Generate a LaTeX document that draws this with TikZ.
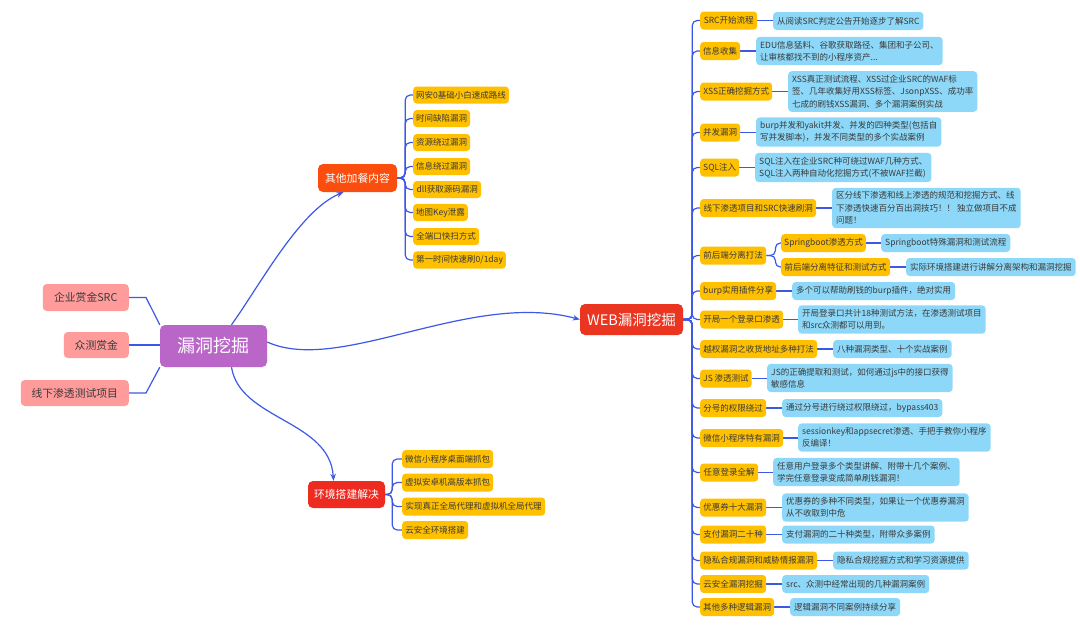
\documentclass[tikz,border=0pt]{standalone}
\usepackage{fontspec}
\setmainfont{Noto Sans CJK SC}
\usetikzlibrary{arrows.meta,backgrounds,calc}
\definecolor{orangeC}{HTML}{FFC000}
\definecolor{blueC}{HTML}{8DD8F8}
\definecolor{connC}{HTML}{3D57E6}
\definecolor{purpleC}{HTML}{B966C8}
\definecolor{webC}{HTML}{EA3520}
\definecolor{extraC}{HTML}{FB4E0E}
\definecolor{envC}{HTML}{EE2B20}
\definecolor{pinkC}{HTML}{FF9B9B}
\definecolor{txtC}{HTML}{3A3A3A}
\tikzset{
  leaf/.style={anchor=west, rounded corners=3.5pt, inner xsep=3pt, inner ysep=4pt,
    text=txtC, font=\fontsize{8.5}{12.3}\selectfont, minimum height=18pt},
  ob/.style={leaf, fill=orangeC, align=center},
  bb/.style={leaf, fill=blueC, align=left, inner xsep=4pt},
  pinkbox/.style={anchor=east, fill=pinkC, rounded corners=4pt, text=txtC,
    font=\fontsize{10.8}{13}\selectfont, inner sep=2pt},
  mainbox/.style={rounded corners=5pt, text=white, inner sep=2pt},
  conn/.style={draw=connC, line width=1.2pt},
  bus/.style={conn, rounded corners=5pt},
  arr/.style={conn, -{Stealth[length=7pt,width=5.5pt]}}
}
\begin{document}
\begin{tikzpicture}[x=1pt,y=-1pt]
\useasboundingbox (0,0) rectangle (1080,637);
% central and main nodes
\node[mainbox, fill=purpleC, minimum width=107pt, minimum height=42pt,
  font=\fontsize{18}{20}\selectfont] (center) at (213.5,346) {漏洞挖掘};
\node[mainbox, fill=webC, minimum width=103pt, minimum height=31pt,
  font=\fontsize{14.5}{16}\selectfont] (web) at (631.5,319.5) {WEB漏洞挖掘};
\node[mainbox, fill=extraC, minimum width=79pt, minimum height=28pt,
  font=\fontsize{10.8}{12}\selectfont] (extra) at (357.5,178) {其他加餐内容};
\node[mainbox, fill=envC, minimum width=77pt, minimum height=27pt,
  font=\fontsize{10.8}{12}\selectfont] (env) at (346.5,494.5) {环境搭建解决};
% left pink nodes
\node[pinkbox, minimum width=86pt, minimum height=27pt] (p1) at (129,297.5) {企业赏金SRC};
\node[pinkbox, minimum width=65pt, minimum height=26pt] (p2) at (129,345) {众测赏金};
\node[pinkbox, minimum width=108pt, minimum height=26pt] (p3) at (129,393) {线下渗透测试项目};
% other extras children
\node[ob, minimum width=95pt, minimum height=17pt] (c1) at (413,95) {网安0基础小白速成路线};
\node[ob, minimum width=57pt, minimum height=17pt] (c2) at (413,118.5) {时间缺陷漏洞};
\node[ob, minimum width=57pt, minimum height=17pt] (c3) at (413,142.5) {资源绕过漏洞};
\node[ob, minimum width=57pt, minimum height=17pt] (c4) at (413,166.5) {信息绕过漏洞};
\node[ob, minimum width=68pt, minimum height=17pt] (c5) at (413,189.5) {dll获取源码漏洞};
\node[ob, minimum width=53pt, minimum height=17pt] (c6) at (413,212.5) {地图Key泄露};
\node[ob, minimum width=66pt, minimum height=17pt] (c7) at (413,236.5) {全端口快扫方式};
\node[ob, minimum width=90pt, minimum height=17pt] (c8) at (413,260) {第一时间快速刷0/1day};
% environment children
\node[ob, minimum width=91pt] (e1) at (402,459) {微信小程序桌面端抓包};
\node[ob, minimum width=91pt] (e2) at (402,482.5) {虚拟安卓机高版本抓包};
\node[ob, minimum width=143pt] (e3) at (402,506.5) {实现真正全局代理和虚拟机全局代理};
\node[ob, minimum width=66pt] (e4) at (402,530) {云安全环境搭建};
% WEB children (orange)
\node[ob, minimum width=57pt] (o1) at (700,20.5) {SRC开始流程};
\node[ob, minimum width=40pt] (o2) at (700,51) {信息收集};
\node[ob, minimum width=72pt] (o3) at (700,91.5) {XSS正确挖掘方式};
\node[ob, minimum width=40pt] (o4) at (700,132.5) {并发漏洞};
\node[ob, minimum width=39pt] (o5) at (700,167.5) {SQL注入};
\node[ob, minimum width=116pt] (o6) at (700,208) {线下渗透项目和SRC快速刷洞};
\node[ob, minimum width=66pt] (o7) at (700,255.5) {前后端分离打法};
\node[ob, minimum width=83pt] (o7a) at (781,243) {Springboot渗透方式};
\node[ob, minimum width=109pt] (o7b) at (781,267) {前后端分离特征和测试方式};
\node[ob, minimum width=75pt] (o8) at (700,291) {burp实用插件分享};
\node[ob, minimum width=83pt] (o9) at (700,319.5) {开局一个登录口渗透};
\node[ob, minimum width=117pt] (o10) at (700,349) {越权漏洞之收货地址多种打法};
\node[ob, minimum width=51pt] (o11) at (700,378.5) {JS 渗透测试};
\node[ob, minimum width=66pt] (o12) at (700,408) {分号的权限绕过};
\node[ob, minimum width=83pt] (o13) at (700,438) {微信小程序特有漏洞};
\node[ob, minimum width=58pt] (o14) at (700,472.5) {任意登录全解};
\node[ob, minimum width=66pt] (o15) at (700,507.5) {优惠券十大漏洞};
\node[ob, minimum width=66pt] (o16) at (700,534.5) {支付漏洞二十种};
\node[ob, minimum width=117pt] (o17) at (700,560.5) {隐私合规漏洞和威胁情报漏洞};
\node[ob, minimum width=66pt] (o18) at (700,584) {云安全漏洞挖掘};
\node[ob, minimum width=74pt] (o19) at (700,607) {其他多种逻辑漏洞};
% WEB children (blue)
\node[bb, minimum width=148pt] (b1) at (773,21) {从阅读SRC判定公告开始逐步了解SRC};
\node[bb, minimum width=184pt] (b2) at (756,51) {EDU信息猛料、谷歌获取路径、集团和子公司、\\让审核都找不到的小程序资产...};
\node[bb, minimum width=186pt] (b3) at (788,91.5) {XSS真正测试流程、XSS过企业SRC的WAF标\\签、几年收集好用XSS标签、JsonpXSS、成功率\\七成的刷钱XSS漏洞、多个漏洞案例实战};
\node[bb, minimum width=181pt] (b4) at (756,132) {burp并发和yakit并发、并发的四种类型(包括自\\写并发脚本)，并发不同类型的多个实战案例};
\node[bb, minimum width=175pt] (b5) at (755,167.5) {SQL注入在企业SRC种可绕过WAF几种方式、\\SQL注入两种自动化挖掘方式(不被WAF拦截)};
\node[bb, minimum width=185pt] (b6) at (832,208) {区分线下渗透和线上渗透的规范和挖掘方式、线\\下渗透快速百分百出洞技巧！！ 独立做项目不成\\问题！};
\node[bb, minimum width=125pt] (b7a) at (881,243) {Springboot特殊漏洞和测试流程};
\node[bb, minimum width=165pt] (b7b) at (906,267) {实际环境搭建进行讲解分离架构和漏洞挖掘};
\node[bb, minimum width=160pt] (b8) at (792,291) {多个可以帮助刷钱的burp插件，绝对实用};
\node[bb, minimum width=185pt] (b9) at (798,319.5) {开局登录口共计18种测试方法，在渗透测试项目\\和src众测都可以用到。};
\node[bb, minimum width=116pt] (b10) at (833,349) {八种漏洞类型、十个实战案例};
\node[bb, minimum width=181pt] (b11) at (767,378) {JS的正确提取和测试，如何通过js中的接口获得\\敏感信息};
\node[bb, minimum width=157pt] (b12) at (782,408) {通过分号进行绕过权限绕过，bypass403};
\node[bb, minimum width=187pt] (b13) at (798,437.5) {sessionkey和appsecret渗透、手把手教你小程序\\反编译！};
\node[bb, minimum width=185pt] (b14) at (773,472) {任意用户登录多个类型讲解、附带十几个案例、\\学完任意登录变成简单刷钱漏洞！};
\node[bb, minimum width=185pt] (b15) at (782,507.5) {优惠券的多种不同类型，如果让一个优惠券漏洞\\从不收取到中危};
\node[bb, minimum width=151pt] (b16) at (782,534.5) {支付漏洞的二十种类型，附带众多案例};
\node[bb, minimum width=133pt] (b17) at (833,560.5) {隐私合规挖掘方式和学习资源提供};
\node[bb, minimum width=145pt] (b18) at (782,584) {src、众测中经常出现的几种漏洞案例};
\node[bb, minimum width=108pt] (b19) at (790,607) {逻辑漏洞不同案例持续分享};

\begin{pgfonlayer}{background}
% left
\draw[conn] (p1.east) -- ++(17,0) -- (center.north west);
\draw[conn] (p2.east) -- (p2.east -| center.west);
\draw[conn] (p3.east) -- ++(17,0) -- (center.south west);
% curves
\draw[arr] ($(center.east)+(0,-4)$) .. controls (340,375) and (470,290) .. (web.west);
\draw[arr] ($(center.north)+(18,0)$) .. controls (260,285) and (300,210) .. ($(extra.south)+(-14,0)$);
\draw[arr] ($(center.south)+(18,0)$) .. controls (240,420) and (330,420) .. ($(env.north)+(-13,0)$);
% extras bus
\foreach \c in {c1,c2,c3,c4,c5,c6,c7,c8}
  \draw[bus] (extra.east) -- ++(8,0) |- (\c.west);
% env bus
\foreach \c in {e1,e2,e3,e4}
  \draw[bus] (env.east) -- ++(7,0) |- (\c.west);
% web bus
\foreach \c in {o1,o2,o3,o4,o5,o6,o7,o8,o9,o10,o11,o12,o13,o14,o15,o16,o17,o18,o19}
  \draw[bus] (web.east) -- ++(9,0) |- (\c.west);
\foreach \c in {o7a,o7b}
  \draw[bus] (o7.east) -- ++(9,0) |- (\c.west);
% orange to blue
\foreach \o/\b in {o1/b1,o2/b2,o3/b3,o4/b4,o5/b5,o6/b6,o7a/b7a,o7b/b7b,o8/b8,o9/b9,o10/b10,o11/b11,o12/b12,o13/b13,o14/b14,o15/b15,o16/b16,o17/b17,o18/b18,o19/b19}
  \draw[conn] (\o.east) -- (\o.east -| \b.west);
\end{pgfonlayer}
\end{tikzpicture}
\end{document}
